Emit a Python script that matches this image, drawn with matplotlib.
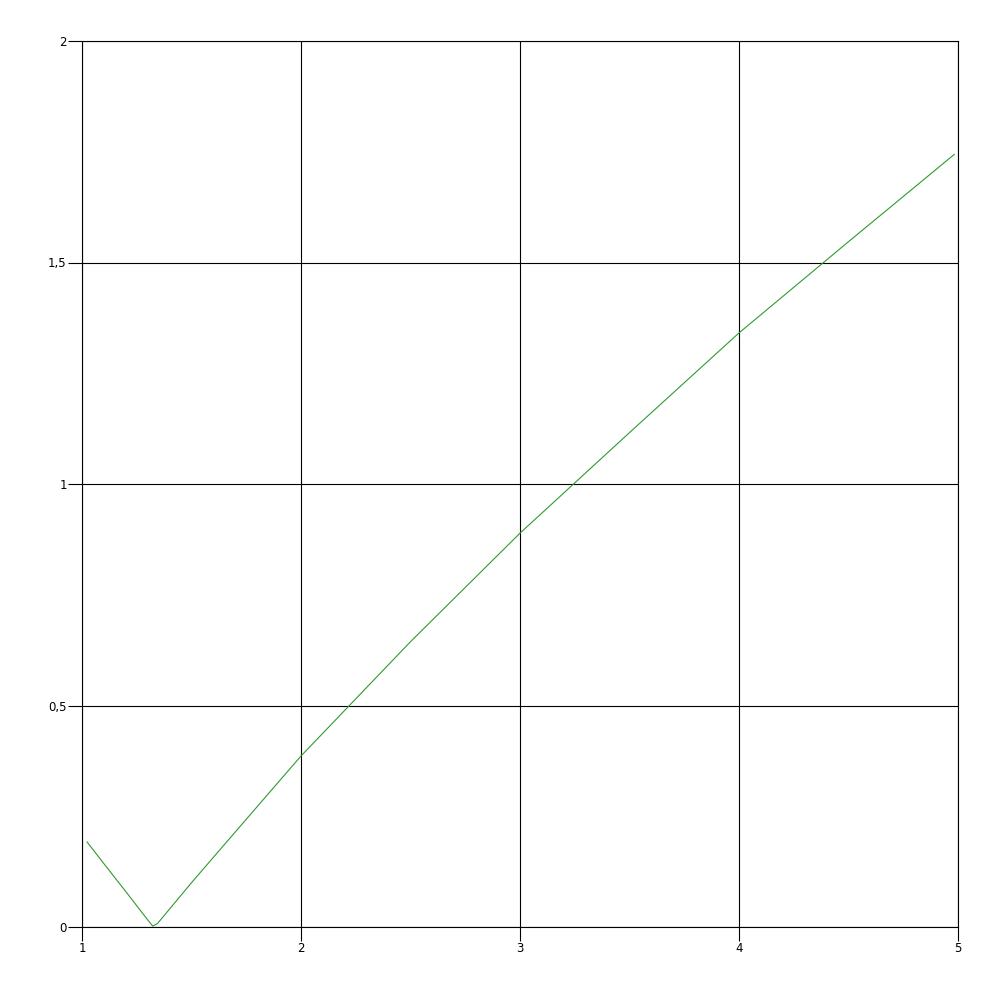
import matplotlib
matplotlib.use("Agg")
import matplotlib.pyplot as plt

# valores
x_vals = [1.023, 1.10, 1.20, 1.30, 1.323, 1.345, 1.50, 1.65, 2.00, 2.50, 3.00, 3.50, 4.00, 4.50, 4.983]
y_vals = [0.192, 0.143, 0.080, 0.016, 0.002, 0.008, 0.100, 0.186, 0.386, 0.644, 0.889, 1.116, 1.341, 1.547, 1.744]

x_ticks = [1, 2, 3, 4, 5]
y_ticks = [0, 0.5, 1, 1.5, 2]
y_labels = ["0", "0,5", "1", "1,5", "2"]

fig = plt.figure(figsize=(10, 10), dpi=100)
ax = fig.add_axes([0.082, 0.073, 0.876, 0.886])

ax.plot(x_vals, y_vals, color="#2f9a2f", linewidth=0.8)

ax.set_xlim(1, 5)
ax.set_ylim(0, 2)
ax.set_xticks(x_ticks)
ax.set_xticklabels([str(t) for t in x_ticks])
ax.set_yticks(y_ticks)
ax.set_yticklabels(y_labels)
ax.grid(True, color="black", linewidth=0.8)
ax.tick_params(length=10, width=0.8, labelsize=8.5, pad=1, colors="black")
for s in ax.spines.values():
    s.set_linewidth(0.8)

fig.savefig("out.png", dpi=100)
